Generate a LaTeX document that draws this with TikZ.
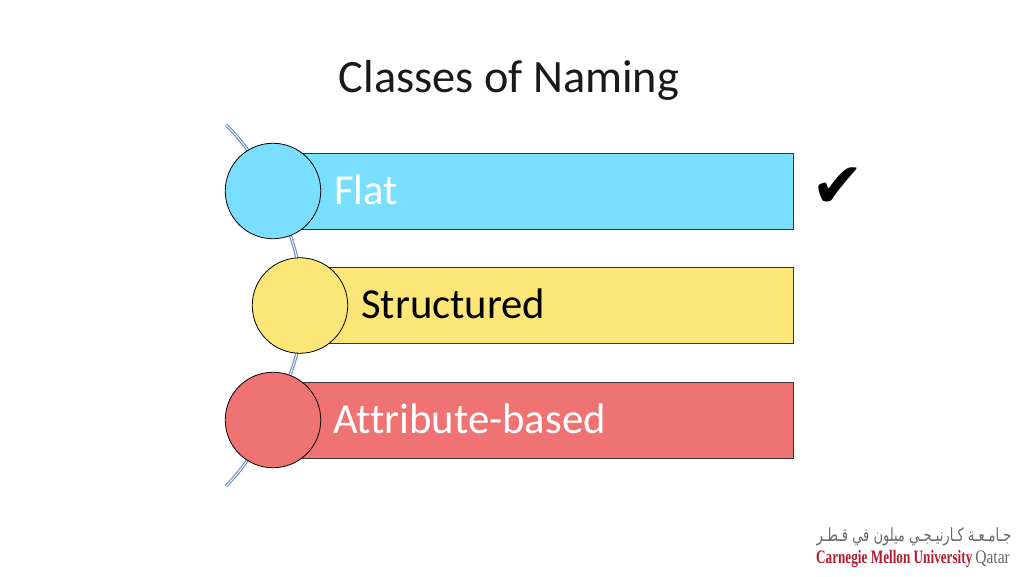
\documentclass[tikz,border=0pt]{standalone}
\usepackage{fontspec}
\setmainfont{Carlito}[Ligatures=NoCommon]
\newfontfamily\logoserif{Liberation Serif}
\newfontfamily\checkfont{DejaVu Sans}
\newfontfamily\arabicfont[Script=Arabic]{DejaVu Sans}
\TeXXeTstate=1
\usetikzlibrary{positioning}
\definecolor{flatblue}{RGB}{122,223,255}
\definecolor{structyellow}{RGB}{252,230,119}
\definecolor{attrred}{RGB}{239,115,115}
\definecolor{arcblue}{RGB}{112,150,195}
\definecolor{cmured}{RGB}{176,30,45}
\definecolor{logogray}{RGB}{105,105,105}
\tikzset{
 classbar/.style={draw=black!80,line width=0.8pt,anchor=west,minimum height=76pt,inner sep=0pt},
 classdot/.style={circle,draw=black,line width=0.8pt,minimum size=95.5pt,inner sep=0pt},
 classtext/.style={font=\fontsize{42.7}{42.7}\selectfont,anchor=base west,inner sep=0pt},
}
\begin{document}
\begin{tikzpicture}[x=1pt,y=-1pt]
 \useasboundingbox (0,0) rectangle (1024,576);
 \fill[white](0,0) rectangle (1024,576);
 \node[font=\fontsize{46.3}{46.3}\selectfont,text=black!90,anchor=base,inner sep=0pt] (title) at (509,92) {Classes of Naming};
 \coordinate (arctop) at (226,125);
 \coordinate (archigh) at (297,258);
 \coordinate (arclow) at (297,353);
 \coordinate (arcbot) at (226,486);
 \draw[arcblue,line width=1.2pt,double=white,double distance=0.8pt] (arctop) .. controls (258,155) and (285,210) .. (archigh) -- (arclow) .. controls (287,390) and (262,450) .. (arcbot);
 \node[classbar,fill=flatblue,minimum width=519.5pt] (flatbar) at (273,191) {};
 \node[classbar,fill=structyellow,minimum width=492.5pt] (structbar) at (300,305.5) {};
 \node[classbar,fill=attrred,minimum width=519.5pt] (attrbar) at (273,420) {};
 \node[classdot,fill=flatblue] (flatdot) at (273,191) {};
 \node[classdot,fill=structyellow] (structdot) at (300,305.5) {};
 \node[classdot,fill=attrred] (attrdot) at (273,420) {};
 \node[classtext,text=white] (flatname) at (334,204) {Flat};
 \node[classtext] (structname) at (361,318) {Structured};
 \node[classtext,text=white] (attrname) at (333,433) {Attribute-based};
 \node[font=\checkfont\fontsize{63}{63}\selectfont,inner sep=0pt] (tick) at (838,188) {\char"2714};
 \node[font=\arabicfont\fontsize{13}{13}\selectfont,text=logogray,inner sep=0pt,yscale=1.4] (logoar) at (914,537) {\beginR جـامـعـة كـارنيـجـي ميلون في قـطـر\endR};
 \node[font=\logoserif\bfseries\fontsize{19}{19}\selectfont,text=cmured,inner sep=0pt,anchor=base west,xscale=0.695] (logocmu) at (816,563) {Carnegie Mellon University};
 \node[font=\logoserif\fontsize{19}{19}\selectfont,text=logogray,inner sep=0pt,anchor=base east,xscale=0.82] (logoqatar) at (1010,563) {Qatar};
\end{tikzpicture}
\end{document}
